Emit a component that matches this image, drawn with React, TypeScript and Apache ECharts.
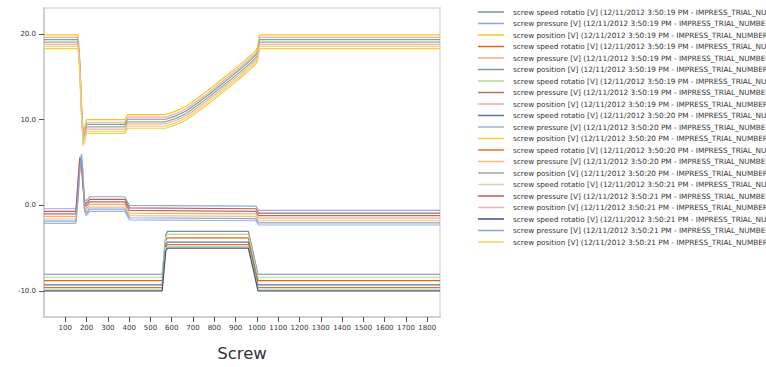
import React, { useEffect, useRef } from "react";
import * as echarts from "echarts";

// Shared x positions per signal type
const speedX = [0, 555, 572, 580, 960, 985, 1005, 1860];
const pressureX = [0, 150, 160, 168, 176, 182, 190, 198, 215, 380, 392, 402, 995, 1008, 1860];
const positionX = [0, 160, 168, 176, 184, 190, 200, 380, 392, 570, 620, 670, 720, 770, 820, 870, 920, 970, 995, 1003, 1012, 1860];

// screw speed rotatio series (7 trials)
const speed1 = [-8.05, -8.05, -3.4, -3.05, -3.05, -5.8, -8.05, -8.05];
const speed2 = [-8.8, -8.8, -4.1, -3.8, -3.8, -6.5, -8.8, -8.8];
const speed3 = [-8.4, -8.4, -3.7, -3.4, -3.4, -6.1, -8.4, -8.4];
const speed4 = [-9.3, -9.3, -4.6, -4.3, -4.3, -7.0, -9.3, -9.3];
const speed5 = [-9.6, -9.6, -4.9, -4.6, -4.6, -7.3, -9.6, -9.6];
const speed6 = [-9.8, -9.8, -5.0, -4.8, -4.8, -7.5, -9.8, -9.8];
const speed7 = [-10.0, -10.0, -5.3, -5.0, -5.0, -7.7, -10.0, -10.0];

// screw pressure series
const pressure1 = [-0.4, -0.4, 1.5, 4.5, 6.0, 4.0, 0.8, 0.5, 1.0, 1.0, 0.4, 0.0, -0.1, -0.6, -0.6];
const pressure2 = [-1.3, -1.3, 2.0, 4.8, 5.2, 3.2, 0.0, -0.4, 0.1, 0.1, -0.5, -0.9, -1.0, -1.5, -1.5];
const pressure3 = [-1.0, -1.0, 2.5, 5.3, 5.0, 3.0, 0.2, -0.1, 0.4, 0.4, -0.2, -0.6, -0.7, -1.2, -1.2];
const pressure4 = [-2.1, -2.1, 0.8, 4.0, 5.8, 4.2, -0.6, -1.2, -0.7, -0.7, -1.3, -1.7, -1.8, -2.3, -2.3];
const pressure5 = [-1.6, -1.6, 1.5, 4.5, 5.4, 3.5, -0.2, -0.7, -0.2, -0.2, -0.8, -1.2, -1.3, -1.8, -1.8];
const pressure6 = [-0.7, -0.7, 3.0, 5.6, 4.8, 2.5, 0.4, 0.2, 0.7, 0.7, 0.1, -0.3, -0.4, -0.9, -0.9];
const pressure7 = [-1.85, -1.85, 1.0, 4.2, 5.6, 3.8, -0.4, -0.95, -0.45, -0.45, -1.05, -1.45, -1.55, -2.05, -2.05];

// screw position series
const position1 = [19.9, 19.9, 17.0, 12.0, 8.6, 9.0, 10.0, 10.0, 10.6, 10.6, 11.0, 11.6, 12.5, 13.4, 14.4, 15.4, 16.4, 17.5, 18.1, 18.4, 19.9, 19.9];
const position2 = [19.35, 19.35, 16.45, 11.45, 8.05, 8.45, 9.45, 9.45, 10.05, 10.05, 10.45, 11.05, 11.95, 12.85, 13.85, 14.85, 15.85, 16.95, 17.55, 17.85, 19.35, 19.35];
const position3 = [19.6, 19.6, 16.7, 11.7, 8.3, 8.7, 9.7, 9.7, 10.3, 10.3, 10.7, 11.3, 12.2, 13.1, 14.1, 15.1, 16.1, 17.2, 17.8, 18.1, 19.6, 19.6];
const position4 = [18.3, 18.3, 15.4, 10.4, 7.0, 7.4, 8.4, 8.4, 9.0, 9.0, 9.4, 10.0, 10.9, 11.8, 12.8, 13.8, 14.8, 15.9, 16.5, 16.8, 18.3, 18.3];
const position5 = [19.05, 19.05, 16.15, 11.15, 7.75, 8.15, 9.15, 9.15, 9.75, 9.75, 10.15, 10.75, 11.65, 12.55, 13.55, 14.55, 15.55, 16.65, 17.25, 17.55, 19.05, 19.05];
const position6 = [18.8, 18.8, 15.9, 10.9, 7.5, 7.9, 8.9, 8.9, 9.5, 9.5, 9.9, 10.5, 11.4, 12.3, 13.3, 14.3, 15.3, 16.4, 17.0, 17.3, 18.8, 18.8];
const position7 = [18.55, 18.55, 15.65, 10.65, 7.25, 7.65, 8.65, 8.65, 9.25, 9.25, 9.65, 10.25, 11.15, 12.05, 13.05, 14.05, 15.05, 16.15, 16.75, 17.05, 18.55, 18.55];

const speedSeries = [speed1, speed2, speed3, speed4, speed5, speed6, speed7];
const pressureSeries = [pressure1, pressure2, pressure3, pressure4, pressure5, pressure6, pressure7];
const positionSeries = [position1, position2, position3, position4, position5, position6, position7];

const trialTimes = ["3:50:19", "3:50:19", "3:50:19", "3:50:20", "3:50:20", "3:50:21", "3:50:21"];

const speedColors = ["#7a8bab", "#e0661a", "#b2d690", "#5f73a0", "#e27428", "#c4dfae", "#3c5282"];
const pressureColors = ["#8eaad6", "#f5b070", "#b86a6a", "#9ab4de", "#f7bc80", "#c25a5a", "#88a6d6"];
const positionColors = ["#f2c81e", "#7f9f8f", "#eeaaaa", "#f5cf40", "#90ac9e", "#f0b0b0", "#f3d26a"];

const yTicks = [-10, 0, 10, 20];
const xTicks = [100, 200, 300, 400, 500, 600, 700, 800, 900, 1000, 1100, 1200, 1300, 1400, 1500, 1600, 1700, 1800];

const FONT = "DejaVu Sans";

function zip(xs: number[], ys: number[]) {
  return xs.map((x, i) => [x, ys[i]]);
}

export default function App() {
  const ref = useRef<HTMLDivElement>(null);
  useEffect(() => {
    if (!ref.current) return;
    const chart = echarts.init(ref.current, null, { renderer: "svg" });
    const series: any[] = [];
    for (let c = 0; c < 7; c++) {
      const t = trialTimes[c];
      const n = c + 1;
      const items = [
        { name: `screw speed rotatio [V] (12/11/2012 ${t} PM - IMPRESS_TRIAL_NUMBER_${n})`, xs: speedX, ys: speedSeries[c], color: speedColors[c] },
        { name: `screw pressure [V] (12/11/2012 ${t} PM - IMPRESS_TRIAL_NUMBER_${n})`, xs: pressureX, ys: pressureSeries[c], color: pressureColors[c] },
        { name: `screw position [V] (12/11/2012 ${t} PM - IMPRESS_TRIAL_NUMBER_${n})`, xs: positionX, ys: positionSeries[c], color: positionColors[c] },
      ];
      for (const it of items) {
        series.push({
          type: "line",
          name: it.name,
          data: zip(it.xs, it.ys),
          symbol: "none",
          color: it.color,
          lineStyle: { width: 1.2, color: it.color },
        });
      }
    }
    chart.setOption({
      animation: false,
      grid: {
        left: 44,
        top: 8,
        width: 396,
        height: 311,
        show: true,
        borderColor: "#e2e2e2",
        borderWidth: 2,
      },
      legend: {
        orient: "vertical",
        left: 478,
        top: 8,
        padding: 0,
        itemGap: 3.5,
        itemWidth: 26,
        itemHeight: 1.5,
        icon: "rect",
        textStyle: { fontSize: 7.3, fontFamily: FONT, color: "#333", lineHeight: 8, padding: [0, 0, 0, 4] },
      },
      xAxis: {
        type: "value",
        min: 0,
        max: 1860,
        name: "Screw",
        nameLocation: "middle",
        nameGap: 28,
        nameTextStyle: { fontSize: 16.5, fontFamily: FONT, color: "#333" },
        axisLine: { show: true, onZero: false, lineStyle: { color: "#d0d0d0", width: 2 } },
        axisTick: { show: true, length: 5, customValues: xTicks, lineStyle: { color: "#555" } },
        axisLabel: {
          customValues: xTicks,
          formatter: (v: number) => String(v),
          fontSize: 7,
          fontFamily: FONT,
          color: "#333",
          margin: 7,
        },
        splitLine: { show: false },
      },
      yAxis: {
        type: "value",
        min: -13.04,
        max: 23.04,
        axisLine: { show: true, onZero: false, lineStyle: { color: "#d0d0d0", width: 2 } },
        axisTick: { show: true, length: 5, customValues: yTicks, lineStyle: { color: "#555" } },
        axisLabel: {
          customValues: yTicks,
          formatter: (v: number) => v.toFixed(1),
          fontSize: 7,
          fontFamily: FONT,
          color: "#333",
          margin: 8,
        },
        splitLine: { show: false },
      },
      series,
    });
    return () => chart.dispose();
  }, []);
  return (
    <div
      ref={ref}
      style={{ position: "absolute", left: 0, top: 0, width: 766, height: 367 }}
    />
  );
}
